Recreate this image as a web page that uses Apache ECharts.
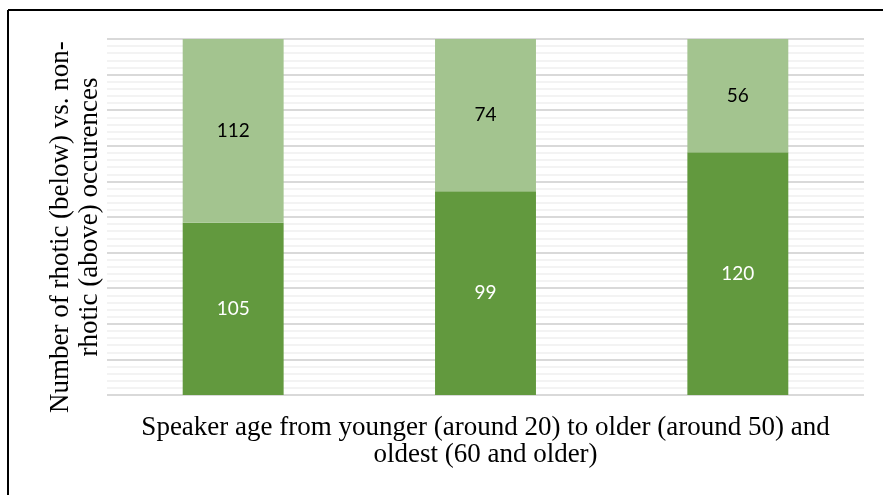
<!DOCTYPE html>
<html>
<head>
<meta charset="utf-8">
<script src="https://cdn.jsdelivr.net/npm/echarts@6/dist/echarts.min.js"></script>
<style>
  html, body { margin: 0; padding: 0; background: #fff; }
  #chart { width: 883px; height: 495px; }
</style>
</head>
<body>
<div id="chart"></div>
<script>
// speaker age groups (no category labels shown on the axis)
const categories = ['younger', 'older', 'oldest'];
const rhotic = [105, 99, 120];     // below
const nonRhotic = [112, 74, 56];   // above

const totals = categories.map((_, i) => rhotic[i] + nonRhotic[i]);
const toPct = (arr) => arr.map((v, i) => ({ value: v / totals[i] * 100, raw: v }));

const chart = echarts.init(document.getElementById('chart'));

const serif = '"Liberation Serif", "Times New Roman", serif';

chart.setOption({
  backgroundColor: '#fff',
  animation: false,
  grid: { left: 107, right: 19, top: 39, bottom: 100 },
  xAxis: {
    type: 'category',
    data: categories,
    axisLine: { show: false },
    axisTick: { show: false },
    axisLabel: { show: false },
    name: 'Speaker age from younger (around 20) to older (around 50) and\noldest (60 and older)',
    nameLocation: 'middle',
    nameGap: 19,
    nameTextStyle: {
      fontFamily: serif,
      fontSize: 27,
      lineHeight: 27,
      color: '#000',
      verticalAlign: 'top'
    }
  },
  yAxis: {
    type: 'value',
    min: 0,
    max: 100,
    interval: 10,
    axisLine: { show: false },
    axisTick: { show: false },
    axisLabel: { show: false },
    splitLine: { lineStyle: { color: '#D9D9D9', width: 2 } },
    minorTick: { show: false, splitNumber: 5 },
    minorSplitLine: { show: true, lineStyle: { color: '#F0F0F0', width: 1.5 } },
    // trailing spaces keep the first line a little lower, as in the source
    name: 'Number of rhotic (below) vs. non-\u00a0\u00a0\u00a0\nrhotic (above) occurences',
    nameLocation: 'middle',
    nameRotate: 90,
    nameGap: 3,
    nameTextStyle: {
      fontFamily: serif,
      fontSize: 27,
      lineHeight: 29,
      color: '#000'
    }
  },
  graphic: [
    { type: 'line', shape: { x1: 8, y1: 10, x2: 8, y2: 495 }, style: { stroke: '#000', lineWidth: 2 } },
    { type: 'line', shape: { x1: 8, y1: 10, x2: 883, y2: 10 }, style: { stroke: '#000', lineWidth: 2 } }
  ],
  series: [
    {
      name: 'rhotic',
      type: 'bar',
      stack: 'total',
      barWidth: '40%',
      data: toPct(rhotic),
      itemStyle: { color: '#62993E' },
      label: {
        show: true,
        position: 'inside',
        color: '#fff',
        fontFamily: 'Lato, sans-serif',
        fontSize: 19,
        formatter: (p) => p.data.raw
      }
    },
    {
      name: 'non-rhotic',
      type: 'bar',
      stack: 'total',
      barWidth: '40%',
      data: toPct(nonRhotic),
      itemStyle: { color: '#A3C48F' },
      label: {
        show: true,
        position: 'inside',
        color: '#000',
        fontFamily: 'Lato, sans-serif',
        fontSize: 19,
        formatter: (p) => p.data.raw
      }
    }
  ]
});

window.addEventListener('resize', () => chart.resize());
</script>
</body>
</html>
